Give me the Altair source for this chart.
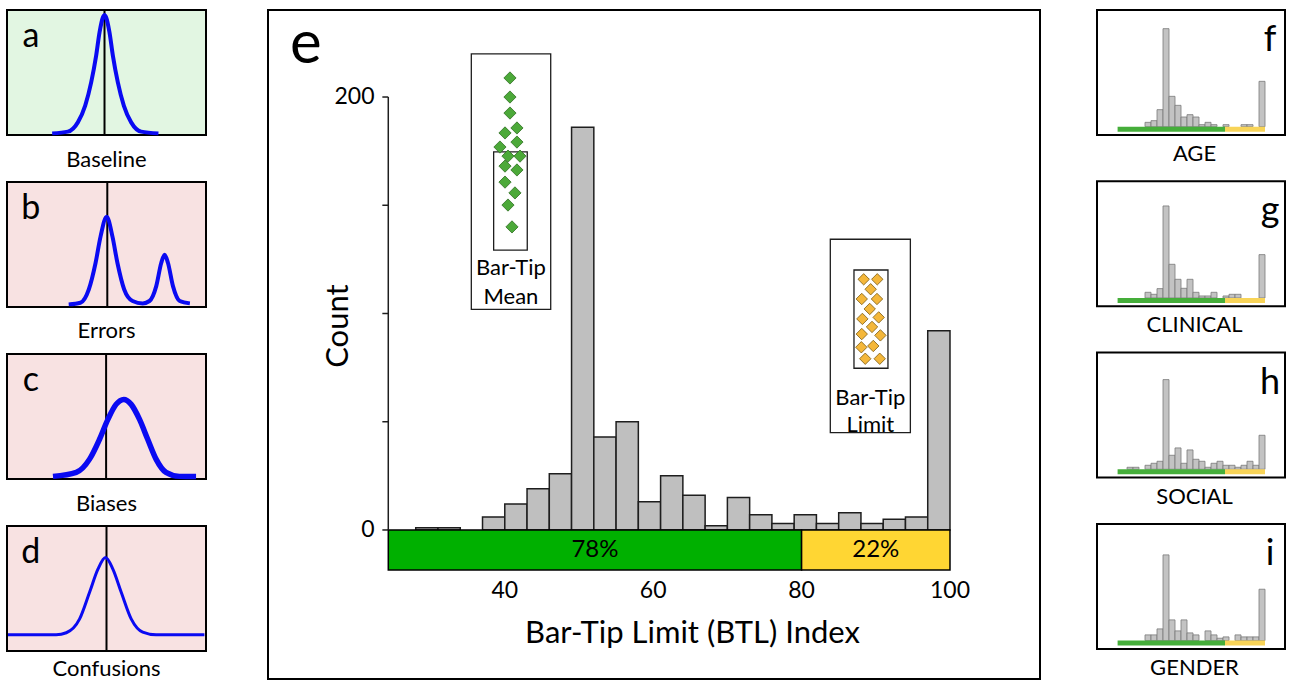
import altair as alt
import pandas as pd

FONT = "Lato"
BLUE = "#0A0AF2"

# ---------------- panel e: main histogram ----------------
BIN_STARTS = [28, 31, 34, 37, 40, 43, 46, 49, 52, 55, 58, 61, 64, 67, 70, 73, 76, 79, 82, 85, 88, 91, 94, 97]
BIN_WIDTH = 3
MAIN_COUNTS = [1, 1, 0, 6, 12, 19, 26, 186, 43, 50, 13, 25, 16, 2, 15, 7, 3, 7, 3, 8, 3, 5, 6, 92]

BAND_LABELS = ["78%", "22%"]
BAND_START = [24.3, 80]
BAND_END = [80, 100]
BAND_COLORS = ["#00B000", "#FFD633"]
BAND_DEPTH = -18.5

X_TICKS = [40, 60, 80, 100]
Y_TICKS = [0, 50, 100, 150, 200]
Y_LABELED = [0, 200]

# inset "Bar-Tip Mean" (green diamonds)
MEAN_DX = [40.70, 40.70, 40.70, 41.64, 40.03, 41.64, 39.35, 40.43, 42.05, 40.03, 41.64, 40.03, 41.37, 40.43, 40.97]
MEAN_DY = [208.8, 200.0, 192.6, 185.7, 183.4, 179.2, 176.9, 172.7, 172.7, 168.1, 166.3, 160.7, 155.7, 150.1, 140.0]
# inset "Bar-Tip Limit" (orange diamonds)
LIMIT_DX = [88.37, 90.20, 89.31, 88.11, 90.16, 89.18, 88.19, 90.39, 89.49, 88.11, 90.62, 88.05, 89.66, 88.58, 90.53]
LIMIT_DY = [115.8, 115.8, 111.2, 106.7, 106.7, 102.1, 97.5, 98.2, 93.8, 90.5, 89.9, 84.4, 85.0, 79.1, 79.1]

# inset frames: outer and inner boxes
BOX_X0 = [35.49, 38.50, 83.87, 87.06]
BOX_X1 = [46.19, 43.03, 94.66, 91.64]
BOX_Y0 = [101.9, 129.3, 45.0, 74.7]
BOX_Y1 = [219.9, 174.7, 134.3, 120.1]

INSET_TEXT = ["Bar-Tip", "Mean", "Bar-Tip", "Limit"]
INSET_TX = [40.83, 40.83, 89.26, 89.26]
INSET_TY = [120.9, 107.8, 60.8, 48.5]

# ---------------- panels a-d: schematic curves ----------------
LEFT_LETTERS = ["a", "b", "c", "d"]
LEFT_LABELS = ["Baseline", "Errors", "Biases", "Confusions"]
LEFT_LABEL_Y = [-20.0, -19.5, -20.0, -14.5]
LEFT_BG = ["#E2F6E2", "#F8E2E2", "#F8E2E2", "#F8E2E2"]
LEFT_CENTER = [49.0, 50.4, 49.8, 50.0]
LEFT_WIDTH = [4, 4, 5.5, 3]
CURVE_X = [
    [22.7, 30.6, 35.6, 39.3, 42.3, 44.8, 46.5, 48.2, 49.0, 49.8, 51.5, 53.2, 55.7, 58.7, 62.4, 67.4, 76.1],
    [31.0, 36.9, 41.1, 44.5, 47.0, 50.1, 53.0, 55.5, 58.9, 63.1, 68.2, 71.6, 75.0, 77.5, 79.2, 80.9, 83.4, 86.8, 91.9],
    [23.1, 34.8, 41.5, 46.5, 50.7, 54.8, 58.7, 62.4, 66.6, 70.7, 74.9, 79.9, 86.6, 95.0],
    [0.5, 24.7, 29.8, 36.5, 41.5, 45.7, 49.5, 53.2, 57.4, 62.4, 68.2, 74.9, 99.2],
]
CURVE_Y = [
    [1.3, 2.7, 10.1, 23.5, 42.1, 63.5, 82.1, 94.1, 96.0, 94.1, 82.1, 63.5, 42.1, 23.5, 10.1, 2.7, 1.3],
    [2.1, 3.4, 14.0, 35.2, 56.3, 72.2, 56.3, 35.2, 14.0, 4.8, 2.9, 4.8, 16.7, 35.2, 41.8, 35.2, 16.7, 4.8, 2.9],
    [2.1, 5.3, 15.9, 31.8, 47.7, 59.7, 63.7, 59.7, 47.7, 31.8, 15.9, 5.3, 2.1, 1.9],
    [13.0, 13.0, 14.6, 25.7, 47.0, 65.5, 74.8, 65.5, 47.0, 25.7, 15.1, 13.0, 13.0],
]

# ---------------- panels f-i: subgroup histograms ----------------
RIGHT_LETTERS = ["f", "g", "h", "i"]
RIGHT_LABELS = ["AGE", "CLINICAL", "SOCIAL", "GENDER"]
RIGHT_COUNTS = [
    [0, 0, 0, 0, 13, 18, 51, 294, 91, 64, 29, 36, 29, 6, 13, 6, 0, 6, 0, 0, 6, 6, 0, 136],
    [0, 0, 0, 0, 17, 11, 28, 276, 101, 56, 29, 56, 17, 6, 6, 17, 0, 6, 11, 11, 0, 0, 0, 130],
    [0, 6, 6, 0, 12, 18, 24, 269, 42, 64, 18, 58, 30, 24, 6, 18, 24, 12, 12, 6, 12, 24, 12, 102],
    [0, 0, 0, 0, 17, 17, 35, 257, 62, 29, 62, 23, 17, 0, 29, 17, 7, 11, 0, 17, 11, 11, 11, 154],
]
MINI_BAND_START = [26.3, 80]
MINI_BAND_END = [80, 100]
MINI_BAND_COLORS = ["#45AE3A", "#F8D458"]


def X(field, scale):
    return alt.X(field + ":Q", scale=scale, axis=None)


def Y(field, scale):
    return alt.Y(field + ":Q", scale=scale, axis=None)


# ---------- left panels ----------
def left_panel(i):
    sx = alt.Scale(domain=[0, 100], nice=False, zero=False)
    sy = alt.Scale(domain=[0, 100], nice=False, zero=False)
    rule = alt.Chart(pd.DataFrame({"x": [LEFT_CENTER[i]], "y": [0], "y1": [100]})).mark_rule(
        color="black", strokeWidth=2).encode(x=X("x", sx), y=Y("y", sy), y2="y1:Q")
    line = alt.Chart(pd.DataFrame({"x": CURVE_X[i], "y": CURVE_Y[i]})).mark_line(
        color=BLUE, strokeWidth=LEFT_WIDTH[i], interpolate="monotone").encode(
        x=X("x", sx), y=Y("y", sy))
    letter = alt.Chart(pd.DataFrame({"x": [12], "y": [70.5], "t": [LEFT_LETTERS[i]]})).mark_text(
        font=FONT, fontSize=34, baseline="alphabetic", align="center", color="black").encode(
        x=X("x", sx), y=Y("y", sy), text="t:N")
    label = alt.Chart(pd.DataFrame({"x": [50], "y": [LEFT_LABEL_Y[i]], "t": [LEFT_LABELS[i]]})).mark_text(
        font=FONT, fontSize=22, baseline="middle", align="center", color="black").encode(
        x=X("x", sx), y=Y("y", sy), text="t:N")
    return alt.layer(rule, line, letter, label).properties(
        width=199, height=125, view=alt.ViewBackground(fill=LEFT_BG[i], stroke="black", strokeWidth=2))


# ---------- right panels ----------
def right_panel(i):
    sx = alt.Scale(domain=[16, 110], nice=False, zero=False)
    sy = alt.Scale(domain=[-25, 350], nice=False, zero=False)
    df = pd.DataFrame({"x": BIN_STARTS, "x1": [b + BIN_WIDTH for b in BIN_STARTS],
                       "y": RIGHT_COUNTS[i], "base": 0})
    df = df[df["y"] > 0]
    band = pd.DataFrame({"x": MINI_BAND_START, "x1": MINI_BAND_END, "c": MINI_BAND_COLORS,
                         "y": 0, "y1": -15})
    bars = alt.Chart(df).mark_rect(fill="#C3C3C3", stroke="#7A7A7A", strokeWidth=0.8).encode(
        x=X("x", sx), x2="x1:Q", y=Y("y", sy), y2="base:Q")
    bandc = alt.Chart(band).mark_rect().encode(
        x=X("x", sx), x2="x1:Q", y=Y("y", sy), y2="y1:Q", fill=alt.Fill("c:N", scale=None))
    letter = alt.Chart(pd.DataFrame({"x": [102.5], "y": [227], "t": [RIGHT_LETTERS[i]]})).mark_text(
        font=FONT, fontSize=36, baseline="alphabetic", align="center", color="black").encode(
        x=X("x", sx), y=Y("y", sy), text="t:N")
    label = alt.Chart(pd.DataFrame({"x": [64.75], "y": [-82], "t": [RIGHT_LABELS[i]]})).mark_text(
        font=FONT, fontSize=22, baseline="middle", align="center", color="black").encode(
        x=X("x", sx), y=Y("y", sy), text="t:N")
    return alt.layer(bars, bandc, letter, label).properties(
        width=188, height=125, view=alt.ViewBackground(fill="white", stroke="black", strokeWidth=2))


# ---------- main panel ----------
XS = alt.Scale(domain=[8.09, 112.13], nice=False, zero=False)
YS = alt.Scale(domain=[-68.84, 240.2], nice=False, zero=False)


def mx(field="x"):
    return X(field, XS)


def my(field="y"):
    return Y(field, YS)


hist = pd.DataFrame({"x": BIN_STARTS, "x1": [b + BIN_WIDTH for b in BIN_STARTS],
                     "y": MAIN_COUNTS, "base": 0})
hist = hist[hist["y"] > 0]

bars = alt.Chart(hist).mark_rect(fill="#BFBFBF", stroke="#1E1E1E", strokeWidth=1.5).encode(
    x=mx(), x2="x1:Q", y=my(), y2="base:Q")

band_df = pd.DataFrame({"label": BAND_LABELS, "x": BAND_START, "x1": BAND_END,
                        "y": 0, "y1": BAND_DEPTH})
band = alt.Chart(band_df).mark_rect(stroke="black", strokeWidth=1.5).encode(
    x=mx(), x2="x1:Q", y=my(), y2="y1:Q",
    fill=alt.Fill("label:N", scale=alt.Scale(domain=BAND_LABELS, range=BAND_COLORS), legend=None))
band_text = alt.Chart(band_df).transform_calculate(
    xm="(datum.x + datum.x1) / 2", ym="datum.y1 / 2").mark_text(
    font=FONT, fontSize=24, color="black", baseline="middle", align="center").encode(
    x=mx("xm"), y=my("ym"), text="label:N")

# y axis drawn as marks: line, ticks to the left and labels
yline = alt.Chart(pd.DataFrame({"x": [BAND_START[0]], "y": [0], "y1": [Y_TICKS[-1]]})).mark_rule(
    color="#1E1E1E", strokeWidth=1.5).encode(x=mx(), y=my(), y2="y1:Q")
ytick_rules = alt.Chart(pd.DataFrame({"y": Y_TICKS})).transform_calculate(
    x=f"{BAND_START[0]} - 0.8", x1=f"{BAND_START[0]}").mark_rule(
    color="#1E1E1E", strokeWidth=1.5).encode(x=mx(), x2="x1:Q", y=my())
ylabels = alt.Chart(pd.DataFrame({"y": Y_LABELED, "t": [str(v) for v in Y_LABELED]})).transform_calculate(
    x=f"{BAND_START[0]} - 1.85").mark_text(
    font=FONT, fontSize=23, color="black", baseline="middle", align="right").encode(
    x=mx(), y=my(), text="t:N")
xlabels = alt.Chart(pd.DataFrame({"x": X_TICKS, "t": [str(v) for v in X_TICKS]})).transform_calculate(
    y="-28.2").mark_text(
    font=FONT, fontSize=23, color="black", baseline="middle", align="center").encode(
    x=mx(), y=my(), text="t:N")

box_df = pd.DataFrame({"x": BOX_X0, "x1": BOX_X1, "y": BOX_Y0, "y1": BOX_Y1})
outer_fill = alt.Chart(box_df.iloc[[0, 2]]).mark_rect(fill="white").encode(
    x=mx(), x2="x1:Q", y=my(), y2="y1:Q")
boxes = alt.Chart(box_df).mark_rect(fill="white", fillOpacity=0, stroke="#1E1E1E", strokeWidth=1.3).encode(
    x=mx(), x2="x1:Q", y=my(), y2="y1:Q")

mean_pts = alt.Chart(pd.DataFrame({"x": MEAN_DX, "y": MEAN_DY})).mark_point(
    shape="diamond", filled=True, size=150, fill="#4CA939", stroke="#2F6F22", strokeWidth=0.8,
    opacity=1).encode(x=mx(), y=my())
limit_pts = alt.Chart(pd.DataFrame({"x": LIMIT_DX, "y": LIMIT_DY})).mark_point(
    shape="diamond", filled=True, size=130, fill="#F4B73A", stroke="#7A5A12", strokeWidth=0.8,
    opacity=1).encode(x=mx(), y=my())

inset_text = alt.Chart(pd.DataFrame({"x": INSET_TX, "y": INSET_TY, "t": INSET_TEXT})).mark_text(
    font=FONT, fontSize=22, color="black", baseline="middle", align="center").encode(
    x=mx(), y=my(), text="t:N")

titles = alt.Chart(pd.DataFrame({
    "x": [13.2, 65.3], "y": [224.0, -48.0], "t": ["e", "Bar-Tip Limit (BTL) Index"], "s": [60, 31]})).mark_text(
    font=FONT, color="black", baseline="middle", align="center").encode(
    x=mx(), y=my(), text="t:N", size=alt.Size("s:Q", scale=None, legend=None))
count_title = alt.Chart(pd.DataFrame({"x": [17.6], "y": [94.2], "t": ["Count"]})).mark_text(
    font=FONT, fontSize=31, color="black", baseline="middle", align="center", angle=270).encode(
    x=mx(), y=my(), text="t:N")

main = alt.layer(bars, outer_fill, boxes, mean_pts, limit_pts, inset_text, band, band_text, yline,
                 ytick_rules, ylabels, xlabels, titles, count_title).properties(
    width=772, height=669, view=alt.ViewBackground(fill="white", stroke="black", strokeWidth=2))

left = alt.vconcat(*[left_panel(i) for i in range(4)], spacing=47, bounds="flush")
right = alt.vconcat(*[right_panel(i) for i in range(4)], spacing=46.3, bounds="flush")

# the page body keeps a margin, so the svg is kept narrower than the window
chart = alt.hconcat(left, main, right, spacing=55).properties(
    padding={"left": 0, "top": 6, "right": 0, "bottom": 0}, background="white"
).configure(font=FONT)

chart.save("out.html", embed_options={"renderer": "svg", "actions": False})
